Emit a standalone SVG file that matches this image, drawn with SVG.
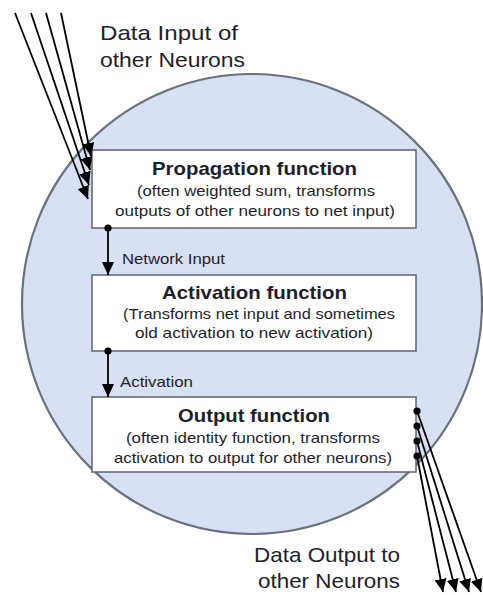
<svg xmlns="http://www.w3.org/2000/svg" width="483" height="595" viewBox="0 0 483 595">
<style>
text{font-family:"Liberation Sans",Arial,sans-serif;fill:#1e1e28}
.big{font-size:21px}
.ttl{font-size:18.5px;font-weight:bold;text-anchor:middle}
.sub{font-size:15px;text-anchor:middle}
.lbl{font-size:14.5px}
.box{fill:#ffffff;stroke:#5f636e;stroke-width:1.5}
.conn{stroke:#000;stroke-width:1.8;fill:none}
</style>
<defs>
<marker id="ah" markerUnits="userSpaceOnUse" markerWidth="13" markerHeight="12" refX="13" refY="6" orient="auto">
<path d="M0,0 L13,6 L0,12 z" fill="#000"/>
</marker>
<marker id="dot" markerUnits="userSpaceOnUse" markerWidth="9" markerHeight="9" refX="4.5" refY="4.5">
<circle cx="4.5" cy="4.5" r="3.6" fill="#000"/>
</marker>
</defs>
<ellipse id="neuron" cx="252" cy="304" rx="230" ry="230" fill="#d7e1f3" stroke="#6b717c" stroke-width="2.2"/>
<g id="input-label">
<text class="big" x="100" y="40" textLength="138" lengthAdjust="spacingAndGlyphs">Data Input of</text>
<text class="big" x="100" y="67" textLength="145" lengthAdjust="spacingAndGlyphs">other Neurons</text>
</g>
<g id="output-label">
<text class="big" x="254" y="562" textLength="146" lengthAdjust="spacingAndGlyphs">Data Output to</text>
<text class="big" x="258" y="588" textLength="142" lengthAdjust="spacingAndGlyphs">other Neurons</text>
</g>
<g id="propagation">
<rect class="box" x="92" y="150" width="324" height="78"/>
<text class="ttl" x="254.5" y="175" textLength="205" lengthAdjust="spacingAndGlyphs">Propagation function</text>
<text class="sub" x="256" y="196" textLength="238" lengthAdjust="spacingAndGlyphs">(often weighted sum, transforms</text>
<text class="sub" x="255" y="216" textLength="280" lengthAdjust="spacingAndGlyphs">outputs of other neurons to net input)</text>
</g>
<g id="activation">
<rect class="box" x="92" y="275" width="324" height="76"/>
<text class="ttl" x="254.5" y="299" textLength="185" lengthAdjust="spacingAndGlyphs">Activation function</text>
<text class="sub" x="259" y="319" textLength="272" lengthAdjust="spacingAndGlyphs">(Transforms net input and sometimes</text>
<text class="sub" x="254" y="338" textLength="238" lengthAdjust="spacingAndGlyphs">old activation to new activation)</text>
</g>
<g id="output">
<rect class="box" x="92" y="397" width="324" height="75"/>
<text class="ttl" x="254" y="422" textLength="152" lengthAdjust="spacingAndGlyphs">Output function</text>
<text class="sub" x="253" y="443" textLength="254" lengthAdjust="spacingAndGlyphs">(often identity function, transforms</text>
<text class="sub" x="253" y="463" textLength="278" lengthAdjust="spacingAndGlyphs">activation to output for other neurons)</text>
</g>
<g id="connectors">
<line class="conn" x1="61" y1="13" x2="91" y2="156" marker-end="url(#ah)"/>
<line class="conn" x1="46" y1="13" x2="90" y2="170" marker-end="url(#ah)"/>
<line class="conn" x1="31" y1="13" x2="89" y2="185" marker-end="url(#ah)"/>
<line class="conn" x1="15" y1="13" x2="88" y2="199" marker-end="url(#ah)"/>
<line class="conn" x1="108" y1="228" x2="108" y2="275" marker-start="url(#dot)" marker-end="url(#ah)"/>
<text class="lbl" x="122" y="264" textLength="103" lengthAdjust="spacingAndGlyphs">Network Input</text>
<line class="conn" x1="108" y1="351" x2="108" y2="397" marker-start="url(#dot)" marker-end="url(#ah)"/>
<text class="lbl" x="120" y="387" textLength="73" lengthAdjust="spacingAndGlyphs">Activation</text>
<line class="conn" x1="417" y1="411" x2="481" y2="592" marker-start="url(#dot)" marker-end="url(#ah)"/>
<line class="conn" x1="417" y1="426" x2="469" y2="592" marker-start="url(#dot)" marker-end="url(#ah)"/>
<line class="conn" x1="417" y1="441" x2="456" y2="592" marker-start="url(#dot)" marker-end="url(#ah)"/>
<line class="conn" x1="417" y1="456" x2="443" y2="592" marker-start="url(#dot)" marker-end="url(#ah)"/>
</g>
</svg>
